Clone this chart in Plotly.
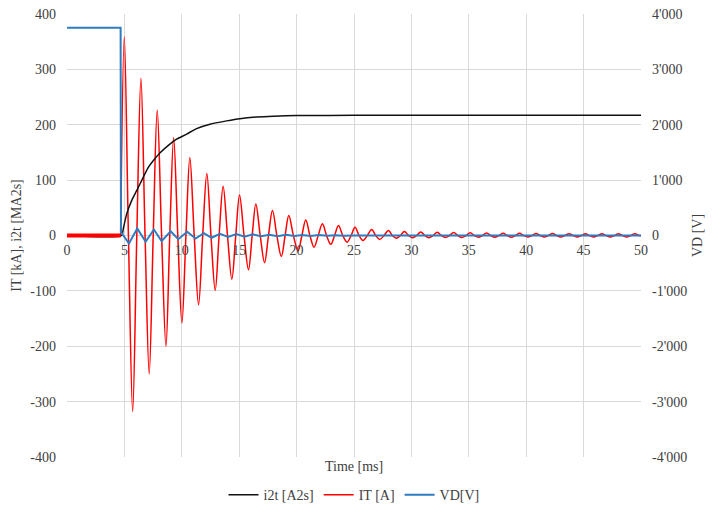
import plotly.graph_objects as go

# ---------------- data ----------------
# IT [kA]: alternating extrema (peak, trough, peak, ...) after the turn-on
it_ext_t = [4.99, 5.72, 6.44, 7.16, 7.86, 8.62, 9.29, 10.01, 10.70, 11.46, 12.18, 12.91,
            13.60, 14.36, 15.03, 15.81, 16.45, 17.21, 17.90, 18.67, 19.32, 20.13, 20.80,
            21.52, 22.25, 22.98, 23.65, 24.40, 25.09, 25.79, 26.54, 27.24, 28.00, 28.69,
            29.39, 30.11, 30.81, 31.53, 32.25, 32.97, 33.68, 34.40, 35.12, 35.84, 36.55,
            37.27, 37.99, 38.71, 39.42, 40.14, 40.86, 41.58, 42.29, 43.01, 43.73, 44.45,
            45.16, 45.88, 46.60, 47.32, 48.03, 48.75, 49.47]
it_ext_v = [359, -318, 284, -250, 226, -200, 177, -158, 141, -125, 112, -99,
            89, -79, 73, -62, 57, -49, 45, -38, 36, -28, 28,
            -21, 21, -16, 18, -12, 15, -9, 11, -7, 9, -5,
            7, -4, 6.5, -4, 6, -3.5, 5.5, -3.5, 5, -3, 4.5,
            -3, 4, -3, 4, -2.5, 3.5, -2.5, 3.5, -2.5, 3, -2.5,
            3, -2.5, 3, -2.5, 3, -2.5, 3]
# IT zero crossings (before the pulse, between extrema, end of record)
it_zero_t = [0.0, 4.50, 4.67, 5.35, 6.08, 6.80, 7.51, 8.24, 8.95, 9.65, 10.36, 11.08, 11.82, 12.54,
             13.25, 13.98, 14.70, 15.42, 16.13, 16.83, 17.55, 18.28, 19.00, 19.72, 20.46,
             21.16, 21.88, 22.61, 23.31, 24.02, 24.75, 25.44, 26.16, 26.89, 27.62, 28.34,
             29.04, 29.75, 30.46, 31.17, 31.89, 32.61, 33.32, 34.04, 34.76, 35.48, 36.19,
             36.91, 37.63, 38.35, 39.06, 39.78, 40.50, 41.22, 41.93, 42.65, 43.37, 44.09,
             44.80, 45.52, 46.24, 46.96, 47.67, 48.39, 49.11, 49.83, 50.0]

# i2t [MA2s]
i2t_t = [0, 4.76, 4.90, 5.20, 5.63, 6.07, 6.64, 7.08, 7.51, 8.09, 8.96, 9.55, 10.42,
         11.29, 12.45, 13.90, 15.06, 16.51, 18.0, 20.0, 25.0, 50.0]
i2t_v = [0, 0, 12, 39, 63, 81, 105, 123, 135, 149, 165, 174, 183,
         193, 201, 207, 211, 214, 215.5, 216.5, 217, 217]

# VD [V]
vd_t = [0, 4.67, 4.70, 5.40, 6.12, 6.85, 7.57, 8.24, 9.03, 9.69, 10.47, 11.20, 11.92,
        12.59, 13.32, 14.04, 14.76, 15.47, 16.19, 16.91, 17.63, 18.34, 19.06, 19.78,
        20.50, 21.21, 21.93, 22.65, 23.37, 24.08, 25.0, 50.0]
vd_v = [3750, 3750, 60, -144, 126, -113, 108, -103, 77, -67, 67, -54, 41,
        -41, 31, -25, 25, -20, 20, -15, 15, -12, 12, -9,
        9, -7, 7, -5, 5, -4, 0, 0]

# ticks
x_ticks = [0, 5, 10, 15, 20, 25, 30, 35, 40, 45, 50]
y_ticks = [-400, -300, -200, -100, 0, 100, 200, 300, 400]
y_ticktext = ["-400", "-300", "-200", "-100", "0", "100", "200", "300", "400"]
y2_ticks = [-4000, -3000, -2000, -1000, 0, 1000, 2000, 3000, 4000]
y2_ticktext = ["-4'000", "-3'000", "-2'000", "-1'000", "0", "1'000", "2'000", "3'000", "4'000"]

# build IT sequence (merge zero crossings and extrema by time)
pts = [(t, 0.0) for t in it_zero_t] + list(zip(it_ext_t, it_ext_v))
pts.sort(key=lambda p: p[0])
it_t = [p[0] for p in pts]
it_v = [p[1] for p in pts]
n_base = 3  # points of the flat pre-pulse baseline

FONT = "Liberation Serif"
TXT = "#404040"
GRID = "#d9d9d9"

fig = go.Figure()

fig.add_trace(go.Scatter(x=it_t[n_base - 1:], y=it_v[n_base - 1:], name="IT [A]", mode="lines",
                         line=dict(color="#ff0000", width=1.5, shape="spline", smoothing=1.0),
                         legendrank=2))
fig.add_trace(go.Scatter(x=i2t_t, y=i2t_v, name="i2t [A2s]", mode="lines",
                         line=dict(color="#111111", width=1.5, shape="spline", smoothing=0.6),
                         legendrank=1))
# thick noisy baseline part of IT before the pulse
fig.add_trace(go.Scatter(x=it_t[:n_base], y=it_v[:n_base], mode="lines",
                         line=dict(color="#ff0000", width=4), showlegend=False,
                         hoverinfo="skip"))
fig.add_trace(go.Scatter(x=vd_t, y=vd_v, name="VD[V]", mode="lines", yaxis="y2",
                         line=dict(color="#2E7BC0", width=2), legendrank=3))

fig.update_layout(
    width=716, height=502,
    margin=dict(l=59, r=83, t=6, b=53, autoexpand=False),
    paper_bgcolor="white", plot_bgcolor="white",
    font=dict(family=FONT, size=14, color=TXT),
    xaxis=dict(range=[0, 50], tickvals=x_ticks, showgrid=True, gridcolor=GRID,
               gridwidth=1, zeroline=False, showline=False, ticks="",
               anchor="free", position=0.5, ticklabelstandoff=4, automargin=False,
               tickfont=dict(family=FONT, size=14, color=TXT)),
    yaxis=dict(range=[-400, 400], tickvals=y_ticks, ticktext=y_ticktext,
               showgrid=True, gridcolor=GRID, zeroline=False, showline=False, ticks="",
               ticklabelstandoff=10, automargin=False, ticklabeloverflow="allow",
               title=dict(text="IT [kA], i2t [MA2s]", font=dict(family=FONT, size=14, color=TXT),
                          standoff=5),
               tickfont=dict(family=FONT, size=14, color=TXT)),
    yaxis2=dict(range=[-4000, 4000], tickvals=y2_ticks, ticktext=y2_ticktext,
                overlaying="y", side="right", showgrid=False, zeroline=False,
                showline=False, ticks="", ticklabelstandoff=10, automargin=False,
                ticklabeloverflow="allow",
                title=dict(text="VD [V]", font=dict(family=FONT, size=14, color=TXT),
                           standoff=6),
                tickfont=dict(family=FONT, size=14, color=TXT)),
    legend=dict(orientation="h", x=0.5, xanchor="center", y=-0.05, yanchor="top",
                font=dict(family=FONT, size=14, color=TXT), bgcolor="rgba(0,0,0,0)",
                traceorder="normal"),
    annotations=[dict(text="Time [ms]", x=0.5, y=-0.0225, xref="paper", yref="paper",
                      xanchor="center", yanchor="middle", showarrow=False,
                      font=dict(family=FONT, size=14, color=TXT))],
    showlegend=True,
)

fig.write_html("out.html")
